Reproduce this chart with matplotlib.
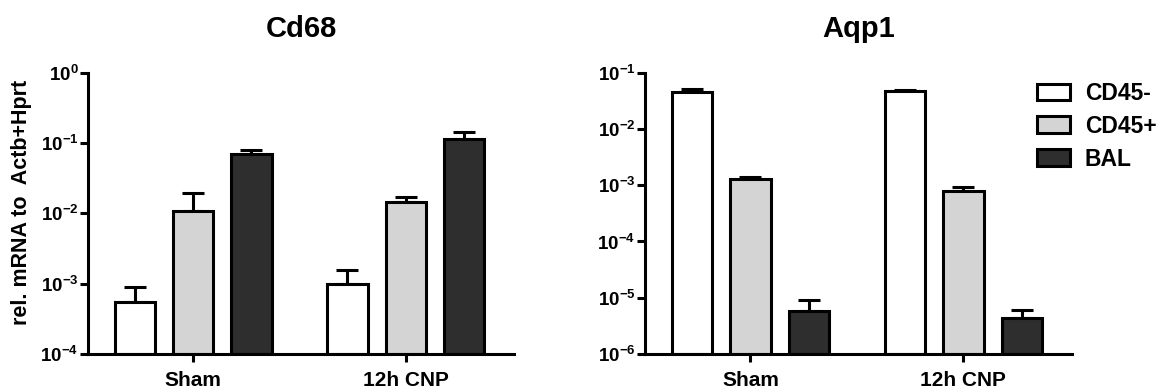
import numpy as np
import matplotlib
matplotlib.use("Agg")
import matplotlib.pyplot as plt
from matplotlib.patches import Patch

plt.rcParams['font.family'] = ['Liberation Sans', 'DejaVu Sans']
plt.rcParams['font.weight'] = 'bold'
plt.rcParams['mathtext.fontset'] = 'custom'
plt.rcParams['mathtext.rm'] = 'Liberation Sans:bold'
plt.rcParams['mathtext.bf'] = 'Liberation Sans:bold'
plt.rcParams['mathtext.it'] = 'Liberation Sans:bold'

# Data
groups = ["Sham", "12h CNP"]
cell_types = ["CD45-", "CD45+", "BAL"]
colors = ["#ffffff", "#d4d4d4", "#2e2e2e"]

cd68_mean = {"CD45-": [5.5e-4, 1.0e-3],
             "CD45+": [1.08e-2, 1.46e-2],
             "BAL":   [6.9e-2, 1.14e-1]}
cd68_err = {"CD45-": [3.4e-4, 5.6e-4],
            "CD45+": [8.4e-3, 2.3e-3],
            "BAL":   [1.0e-2, 3.1e-2]}
cd68_exps = [-4, -3, -2, -1, 0]

aqp1_mean = {"CD45-": [4.6e-2, 4.67e-2],
             "CD45+": [1.29e-3, 7.8e-4],
             "BAL":   [5.8e-6, 4.4e-6]}
aqp1_err = {"CD45-": [5.0e-3, 2.6e-3],
            "CD45+": [1.1e-4, 1.5e-4],
            "BAL":   [3.3e-6, 1.6e-6]}
aqp1_exps = [-6, -5, -4, -3, -2, -1]

fig = plt.figure(figsize=(11.66, 3.92), dpi=100)
ax1 = fig.add_axes([0.0755, 0.0969, 0.3654, 0.7176])
ax2 = fig.add_axes([0.5532, 0.0969, 0.3662, 0.7176])

width = 0.19
offsets = [-0.274, 0.0, 0.274]
x = np.arange(len(groups))


def draw(ax, means, errs, exps, title):
    ax.set_yscale('log')
    bottom = 10.0 ** exps[0]
    for i, ct in enumerate(cell_types):
        m = np.array(means[ct])
        e = np.array(errs[ct])
        ax.errorbar(x + offsets[i], m, yerr=[np.zeros_like(e), e], fmt='none',
                    ecolor='black', elinewidth=2.2, capsize=8, capthick=2.2,
                    zorder=1)
        ax.bar(x + offsets[i], m - bottom, bottom=bottom, width=width,
               color=colors[i], edgecolor='black', linewidth=2.2, zorder=2,
               label=ct)
    ax.set_ylim(10.0 ** exps[0], 10.0 ** exps[-1])
    ax.set_xlim(-0.495, 1.51)
    ax.set_yticks([10.0 ** e for e in exps])
    ax.set_yticklabels([r'$\mathbf{10^{%d}}$' % e for e in exps])
    ax.minorticks_off()
    ax.set_xticks(x)
    ax.set_xticklabels(groups, fontsize=15, fontweight='bold')
    for s in ['top', 'right']:
        ax.spines[s].set_visible(False)
    for s in ['left', 'bottom']:
        ax.spines[s].set_linewidth(2.2)
    ax.tick_params(axis='y', length=6, width=2.2, pad=1, labelsize=13.5)
    ax.tick_params(axis='x', length=6, width=2.2, pad=6.5)
    ax.set_title(title, fontsize=21, fontweight='bold', pad=26)


draw(ax1, cd68_mean, cd68_err, cd68_exps, "Cd68")
draw(ax2, aqp1_mean, aqp1_err, aqp1_exps, "Aqp1")

ax1.set_ylabel("rel. mRNA to  Actb+Hprt", fontsize=15.5, fontweight='bold')
ax1.yaxis.set_label_coords(-0.131, 0.54)

handles = [Patch(facecolor=c, edgecolor='black', linewidth=2.2) for c in colors]
fig.legend(handles, cell_types, loc='upper left', bbox_to_anchor=(0.889, 0.791),
           frameon=False, fontsize=16.5, handlelength=1.45, handleheight=0.75,
           handletextpad=0.65, labelspacing=0.43, borderaxespad=0, borderpad=0)

fig.savefig("out.png", dpi=100)
